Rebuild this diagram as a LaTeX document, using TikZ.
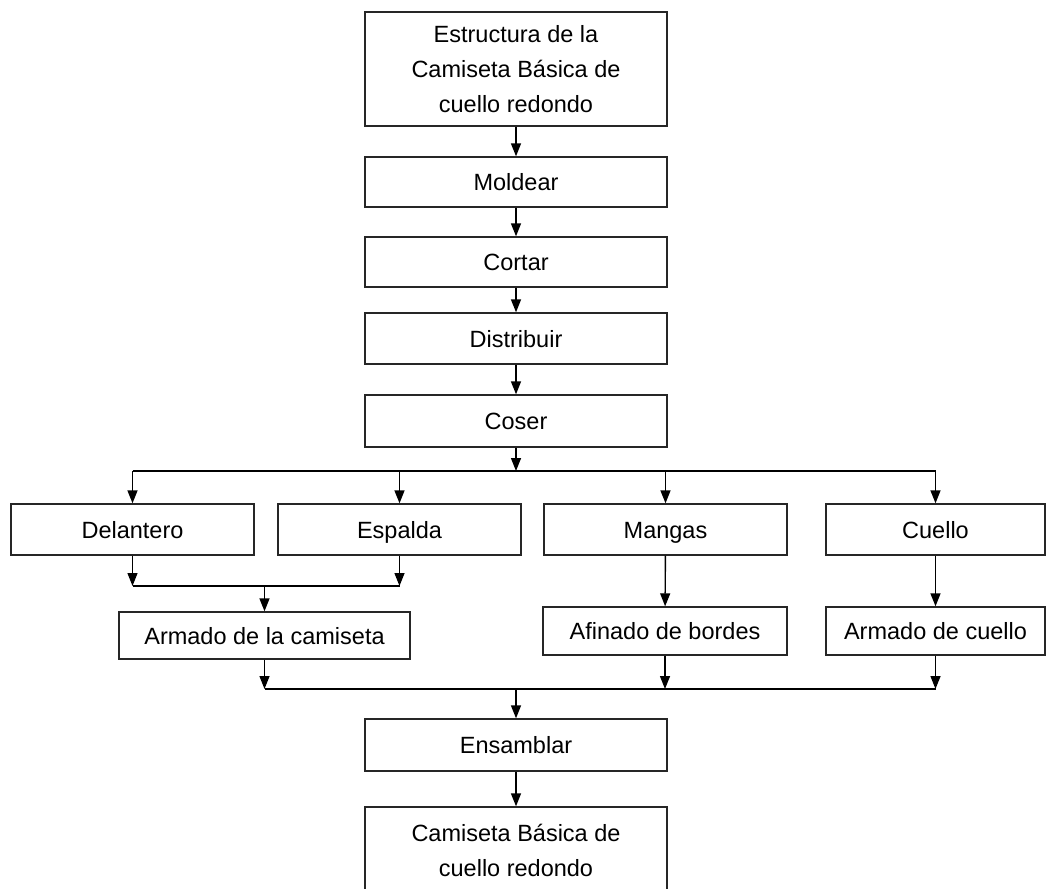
\documentclass[tikz,border=0pt]{standalone}
\usepackage{fontspec}
\setmainfont{Liberation Sans}
\usepackage{tikz}
\usetikzlibrary{arrows.meta}
\usetikzlibrary{calc}
\tikzstyle{stepnode}=[rectangle,draw=black!85,line width=1.4pt,inner sep=0pt,align=center,font=\fontsize{23.5}{35}\selectfont]
\tikzstyle{oneline}=[text height=20pt,text depth=3pt]
\tikzstyle{edge} = [draw,line width=1.4pt,-{Triangle[length=13pt,width=10pt]}]
\tikzstyle{bar} = [draw,line width=1.4pt]

\begin{document}
\begin{tikzpicture}[x=1pt,y=-1pt]

  \useasboundingbox (0,0) rectangle (1047,889);

  % main column
  \node[stepnode,minimum width=302pt,minimum height=114pt] (top) at (516,69) {Estructura de la\\Camiseta Básica de\\cuello redondo};

  \foreach \x/\y/\name/\w/\h/\label in {516/182/moldear/302/50/Moldear, 516/262/cortar/302/50/Cortar,
      516/338.5/distribuir/302/51/Distribuir, 516/421/coser/302/52/Coser, 516/745/ensamblar/302/52/Ensamblar}
          \node[stepnode,oneline,minimum width=\w pt,minimum height=\h pt] (\name) at (\x,\y) {\label};

  \node[stepnode,minimum width=302pt,minimum height=86pt] (final) at (516,850) {Camiseta Básica de\\cuello redondo};

  % parts
  \foreach \x/\y/\name/\w/\h/\label in {132.5/529.5/delantero/243/51/Delantero, 399.5/529.5/espalda/243/51/Espalda,
      665.5/529.5/mangas/243/51/Mangas, 935.5/529.5/cuello/219/51/Cuello}
          \node[stepnode,oneline,minimum width=\w pt,minimum height=\h pt] (\name) at (\x,\y) {\label};

  \foreach \x/\y/\name/\w/\h/\label in {264.5/635.5/armcam/291/47/Armado de la camiseta, 665/631/afinado/244/48/Afinado de bordes,
      935.5/631/armcuello/219/48/Armado de cuello}
          \node[stepnode,oneline,minimum width=\w pt,minimum height=\h pt] (\name) at (\x,\y) {\label};

  \coordinate (split) at (516,471);
  \coordinate (joinA) at (264.5,586);
  \coordinate (joinB) at (516,689);

  \foreach \source/\dest in {top/moldear, moldear/cortar, cortar/distribuir, distribuir/coser, ensamblar/final}
         \path[edge] (\source) -- (\dest);

  % split into parts
  \path[edge] (coser) -- (split);
  \path[bar] (split -| delantero) -- (split -| cuello);
  \foreach \dest in {delantero,espalda,mangas,cuello}
         \path[edge] (split -| \dest) -- (\dest);

  \foreach \source/\dest in {mangas/afinado, cuello/armcuello}
         \path[edge] (\source) -- (\dest);

  % body
  \foreach \source in {delantero,espalda}
         \path[edge] (\source) -- (joinA -| \source);
  \path[bar] (joinA -| delantero) -- (joinA -| espalda);
  \path[edge] (joinA) -- (armcam);

  % assembly
  \foreach \source in {armcam,afinado,armcuello}
         \path[edge] (\source) -- (joinB -| \source);
  \path[bar] (joinB -| armcam) -- (joinB -| armcuello);
  \path[edge] (joinB) -- (ensamblar);

\end{tikzpicture}
\end{document}
